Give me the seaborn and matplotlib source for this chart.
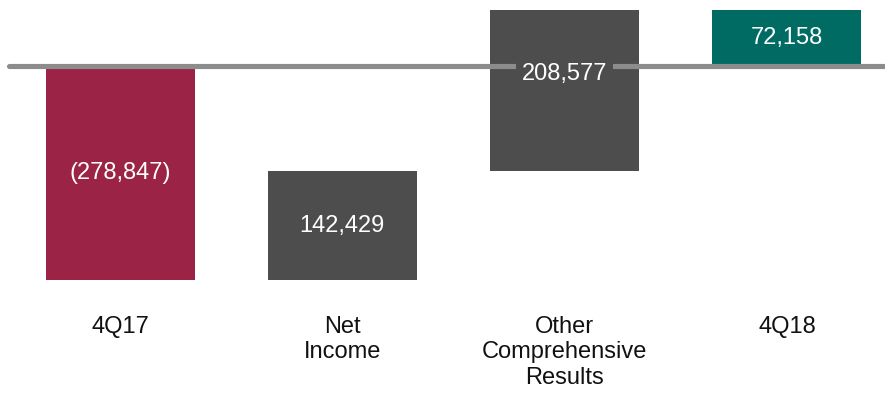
import matplotlib
matplotlib.use("Agg")
import matplotlib.pyplot as plt
import seaborn as sns
import pandas as pd

categories = ["4Q17", "Net\nIncome", "Other\nComprehensive\nResults", "4Q18"]
values = [-278847, 142429, 208577, 72158]
value_labels = ["(278,847)", "142,429", "208,577", "72,158"]
is_total = [True, False, False, True]
colors = ["#9B2345", "#4D4D4D", "#4D4D4D", "#006B63"]

# waterfall bottoms
bottoms = []
running = 0
for v, tot in zip(values, is_total):
    if tot:
        bottoms.append(0)
        running = v
    else:
        bottoms.append(running)
        running += v

df = pd.DataFrame({"cat": categories, "height": values, "bottom": bottoms})

sns.set_theme(style="white")
plt.rcParams["font.family"] = ["Liberation Sans", "DejaVu Sans"]

fig = plt.figure(figsize=(8.85, 3.94), dpi=100)
ax = fig.add_axes([0, 0, 1, 1])

sns.barplot(data=df, x="cat", y="height", color=colors[0],
            bottom=df["bottom"].to_numpy(), width=0.67, ax=ax,
            saturation=1, linewidth=0, zorder=1)
for patch, c in zip(ax.patches, colors):
    patch.set_facecolor(c)
    patch.set_edgecolor("none")

px = 1300.0
ax.set_xlim(-0.54, 3.441)
ax.set_ylim(-(394 - 66) * px, 66 * px)
ax.axis("off")

ax.axhline(0, xmin=9 / 885, xmax=1, color="#8C8C8C", lw=3.7, zorder=2)

fs = 17
for i, (v, b, lab, c) in enumerate(zip(values, bottoms, value_labels, colors)):
    lo, hi = min(b, b + v), max(b, b + v)
    if lo < 0 < hi:
        y = -8 * px
        ax.text(i, y, lab, ha="center", va="center", color="white", fontsize=fs,
                zorder=3, bbox=dict(boxstyle="square,pad=0.25", fc=c, ec="none"))
    else:
        ax.text(i, (lo + hi) / 2, lab, ha="center", va="center", color="white",
                fontsize=fs, zorder=3)

for i, cat in enumerate(categories):
    ax.text(i, -(316 - 66) * px, cat, ha="center", va="top", color="#111111",
            fontsize=fs, linespacing=1.2)

fig.savefig("out.png", dpi=100)
